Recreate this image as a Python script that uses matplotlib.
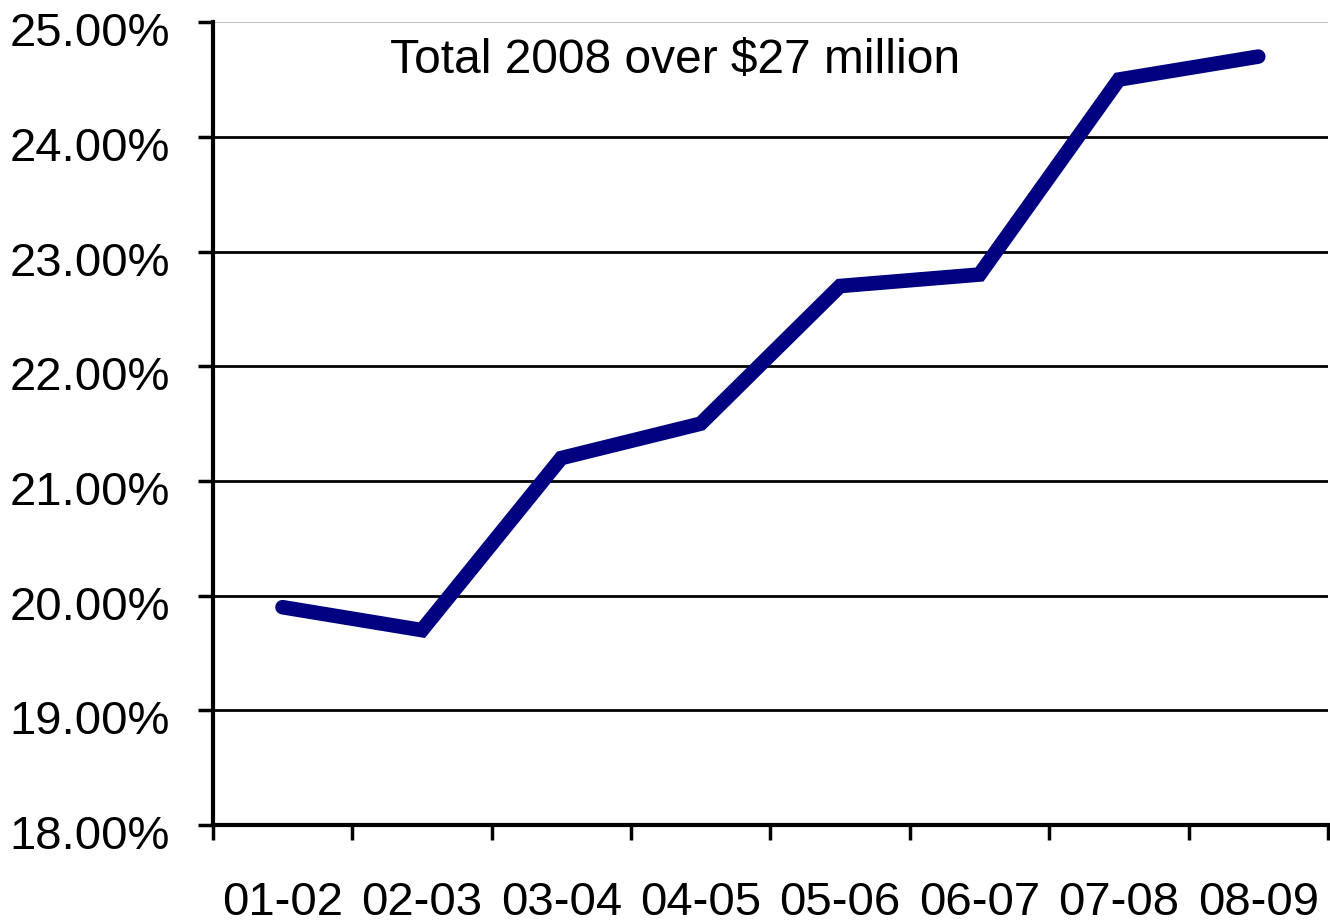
import matplotlib.pyplot as plt
import matplotlib.transforms as mtrans
import numpy as np

plt.rcParams['font.family'] = ['Liberation Sans', 'DejaVu Sans']

years = ['01-02', '02-03', '03-04', '04-05', '05-06', '06-07', '07-08', '08-09']
share = [19.9, 19.7, 21.2, 21.5, 22.7, 22.8, 24.5, 24.7]  # percent
note = "Total 2008 over $27 million"

fig = plt.figure(figsize=(13.3, 9.24), dpi=100)
ax = fig.add_axes([0.160, 0.107, 0.8385, 0.869])

xpos = np.arange(len(years)) + 0.5
ax.plot(xpos, share, color='#000080', lw=10.5, solid_capstyle='round',
        solid_joinstyle='miter', zorder=3)

ax.set_xlim(0, len(years))
ax.set_ylim(18, 25)

# grid lines, top one is lighter
for v in range(19, 25):
    ax.axhline(v, color='black', lw=2, zorder=1)
ax.axhline(25, color='#c0c0c0', lw=1.5, zorder=1)

ax.set_yticks(range(18, 26))
ax.set_yticklabels(['%.2f%%' % v for v in range(18, 26)])
ax.set_xticks(range(len(years) + 1))
ax.set_xticklabels([])
ax.set_xticks(xpos, minor=True)
ax.set_xticklabels(years, minor=True)

ax.tick_params(axis='y', which='major', length=11, width=2.5, labelsize=34, pad=20)
ax.tick_params(axis='x', which='major', length=11, width=2.5)
ax.tick_params(axis='x', which='minor', length=0, labelsize=34, pad=40)

# labels in the original sit a little below their ticks
shift = mtrans.ScaledTranslation(0, -5 / 72, fig.dpi_scale_trans)
for lab in ax.get_yticklabels():
    lab.set_transform(lab.get_transform() + shift)

for s in ['top', 'right']:
    ax.spines[s].set_visible(False)
for s in ['left', 'bottom']:
    ax.spines[s].set_linewidth(3)

ax.text(1.27, 24.67, note, fontsize=34.5, va='center', ha='left')

fig.savefig('out.png', dpi=100)
